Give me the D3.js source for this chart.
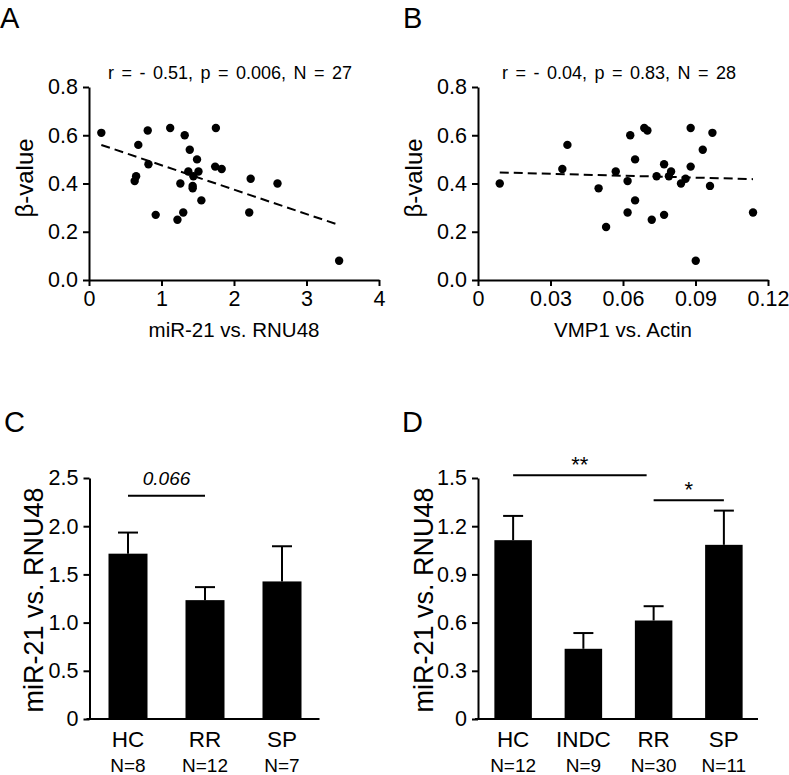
<!DOCTYPE html>
<html>
<head>
<meta charset="utf-8">
<script src="https://cdn.jsdelivr.net/npm/d3@7"></script>
<style>
  body { margin: 0; background: #fff; }
  svg { display: block; font-family: "Liberation Sans", Arial, Helvetica, sans-serif; }
  .axis path, .axis line { stroke: #000; stroke-width: 2; }
  .axis text { fill: #000; font-size: 21.5px; }
</style>
</head>
<body>
<svg id="fig" width="789" height="775"></svg>
<script>
// ---- data ----
// A: beta-value vs miR-21 / RNU48
const aX = [0.17, 0.68, 0.81, 0.82, 0.65, 0.63, 0.92, 1.12, 1.32, 1.39, 1.49, 1.37, 1.51, 1.44,
            1.26, 1.43, 1.43, 1.55, 1.30, 1.22, 1.75, 1.74, 1.83, 2.23, 2.21, 2.60, 3.45];
const aY = [0.61, 0.56, 0.62, 0.48, 0.43, 0.41, 0.27, 0.63, 0.60, 0.54, 0.50, 0.45, 0.45, 0.43,
            0.40, 0.39, 0.38, 0.33, 0.28, 0.25, 0.63, 0.47, 0.46, 0.42, 0.28, 0.40, 0.08];
const aFit = [0.577, -0.1012];   // intercept, slope
const aTitle = "r = - 0.51, p = 0.006, N = 27";
const aXTicks = [0, 1, 2, 3, 4];

// B: beta-value vs VMP1 / Actin
const bX = [0.0090, 0.0349, 0.0370, 0.0499, 0.0530, 0.0570, 0.0619, 0.0619, 0.0630, 0.0650,
            0.0650, 0.0688, 0.0701, 0.0719, 0.0739, 0.0770, 0.0770, 0.0799, 0.0790, 0.0840,
            0.0859, 0.0880, 0.0880, 0.0901, 0.0930, 0.0960, 0.0970, 0.1138];
const bY = [0.40, 0.46, 0.56, 0.38, 0.22, 0.45, 0.41, 0.28, 0.60, 0.50,
            0.33, 0.63, 0.62, 0.25, 0.43, 0.48, 0.27, 0.45, 0.43, 0.40,
            0.42, 0.63, 0.47, 0.08, 0.54, 0.39, 0.61, 0.28];
const bFit = [0.4484, -0.267];
const bTitle = "r = - 0.04, p = 0.83, N = 28";
const bXTicks = [0, 0.03, 0.06, 0.09, 0.12];
const betaTicks = [0, 0.2, 0.4, 0.6, 0.8];

// C: miR-21 by group (mean, sem)
const cCats = ["HC", "RR", "SP"];
const cN = ["N=8", "N=12", "N=7"];
const cMean = [1.715, 1.233, 1.427];
const cSem = [0.219, 0.135, 0.365];
const cTicks = [0, 0.5, 1.0, 1.5, 2.0, 2.5];
const cSig = [{ from: "HC", to: "RR", y: 2.316, label: "0.066", italic: true }];

// D: miR-21 by group incl. INDC
const dCats = ["HC", "INDC", "RR", "SP"];
const dN = ["N=12", "N=9", "N=30", "N=11"];
const dMean = [1.113, 0.437, 0.613, 1.084];
const dSem = [0.151, 0.098, 0.089, 0.213];
const dTicks = [0, 0.3, 0.6, 0.9, 1.2, 1.5];
const dSig = [{ from: "HC", to: "RR", y: 1.517, label: "**", endInset: 7 },
              { from: "RR", to: "SP", y: 1.361, label: "*" }];

const svg = d3.select("#fig");
svg.append("rect").attr("width", 789).attr("height", 775).attr("fill", "#fff");

function panelLetter(txt, x, y) {
  svg.append("text").attr("x", x).attr("y", y)
    .style("font-size", "29px").text(txt);
}

function fmtTick(d) {
  return d === 0 ? "0" : d3.format(".1f")(d);
}

function drawScatter(o) {
  const x = d3.scaleLinear().domain(o.xDomain).range([o.left, o.right]);
  const y = d3.scaleLinear().domain([0, 0.8]).range([280, 87]);
  const g = svg.append("g");

  g.append("g").attr("class", "axis")
    .attr("transform", "translate(0,280)")
    .call(d3.axisBottom(x).tickValues(o.xTicks).tickSize(6).tickSizeOuter(0).tickPadding(5)
      .tickFormat(o.xFormat));
  g.append("g").attr("class", "axis")
    .attr("transform", `translate(${o.left},0)`)
    .call(d3.axisLeft(y).tickValues(betaTicks).tickSize(6).tickSizeOuter(0).tickPadding(5)
      .tickFormat(d3.format(".1f")));

  const pts = o.xs.map((v, i) => [v, o.ys[i]]);
  g.selectAll("circle.dot").data(pts).join("circle")
    .attr("class", "dot")
    .attr("cx", d => x(d[0]))
    .attr("cy", d => y(d[1]))
    .attr("r", 4.2)
    .attr("fill", "#000");

  const ext = d3.extent(o.xs);
  g.append("line")
    .attr("x1", x(ext[0])).attr("y1", y(o.fit[0] + o.fit[1] * ext[0]))
    .attr("x2", x(ext[1])).attr("y2", y(o.fit[0] + o.fit[1] * ext[1]))
    .attr("stroke", "#000").attr("stroke-width", 2)
    .attr("stroke-dasharray", "9,5");

  const mid = (o.left + o.right) / 2;
  g.append("text").attr("x", mid - 4).attr("y", 79)
    .attr("text-anchor", "middle")
    .style("font-size", "18px").style("word-spacing", "2.5px")
    .text(o.title);

  g.append("text").attr("x", mid).attr("y", 337)
    .attr("text-anchor", "middle").style("font-size", "20.5px")
    .text(o.xLabel);

  g.append("text")
    .attr("transform", `translate(${o.left - 56},178) rotate(-90)`)
    .attr("text-anchor", "middle").style("font-size", "24px")
    .text("\u03b2-value");
}

function drawBars(o) {
  const x = d3.scalePoint().domain(o.cats).range(o.xRange).padding(0.5);
  const y = d3.scaleLinear().domain(o.yDomain).range([719, 478]);
  const g = svg.append("g");
  const left = o.xRange[0];

  // bars
  g.selectAll("rect.bar").data(o.cats).join("rect")
    .attr("class", "bar")
    .attr("x", d => x(d) - o.bw / 2)
    .attr("y", (d, i) => y(o.mean[i]))
    .attr("width", o.bw)
    .attr("height", (d, i) => y(0) - y(o.mean[i]))
    .attr("fill", "#000");

  // upper error bars
  g.selectAll("line.err").data(o.cats).join("line")
    .attr("class", "err")
    .attr("x1", d => x(d)).attr("x2", d => x(d))
    .attr("y1", (d, i) => y(o.mean[i]))
    .attr("y2", (d, i) => y(o.mean[i] + o.sem[i]))
    .attr("stroke", "#000").attr("stroke-width", 2);
  g.selectAll("line.cap").data(o.cats).join("line")
    .attr("class", "cap")
    .attr("x1", d => x(d) - 10).attr("x2", d => x(d) + 10)
    .attr("y1", (d, i) => y(o.mean[i] + o.sem[i]))
    .attr("y2", (d, i) => y(o.mean[i] + o.sem[i]))
    .attr("stroke", "#000").attr("stroke-width", 2);

  // axes
  g.append("line")
    .attr("x1", left - 3).attr("x2", o.xRange[1] - 1)
    .attr("y1", y(0)).attr("y2", y(0))
    .attr("stroke", "#000").attr("stroke-width", 2);
  g.append("g").attr("class", "axis")
    .attr("transform", `translate(${left},0)`)
    .call(d3.axisLeft(y).tickValues(o.ticks).tickSize(6).tickSizeOuter(0).tickPadding(5)
      .tickFormat(fmtTick));

  // category + N labels
  g.selectAll("text.cat").data(o.cats).join("text")
    .attr("class", "cat")
    .attr("x", d => x(d)).attr("y", 747)
    .attr("text-anchor", "middle").style("font-size", "22.5px")
    .text(d => d);
  g.selectAll("text.n").data(o.n).join("text")
    .attr("class", "n")
    .attr("x", (d, i) => x(o.cats[i])).attr("y", 772)
    .attr("text-anchor", "middle").style("font-size", "19px")
    .text(d => d);

  // significance brackets
  o.sig.forEach(s => {
    const x1 = x(s.from), x2 = x(s.to) - (s.endInset || 0);
    g.append("line")
      .attr("x1", x1).attr("x2", x2)
      .attr("y1", y(s.y)).attr("y2", y(s.y))
      .attr("stroke", "#000").attr("stroke-width", 2);
    g.append("text")
      .attr("x", (x1 + x2) / 2)
      .attr("y", y(s.y) - (s.italic ? 11 : 3))
      .attr("text-anchor", "middle")
      .style("font-size", s.italic ? "19px" : "22px")
      .style("font-style", s.italic ? "italic" : "normal")
      .text(s.label);
  });

  g.append("text")
    .attr("transform", `translate(${o.yLabelX},600) rotate(-90)`)
    .attr("text-anchor", "middle").style("font-size", "27px")
    .text("miR-21 vs. RNU48");
}

panelLetter("A", 0, 28);
panelLetter("B", 403, 28);
panelLetter("C", 4, 432);
panelLetter("D", 402, 432);

drawScatter({ xs: aX, ys: aY, fit: aFit, title: aTitle, xDomain: [0, 4], xTicks: aXTicks,
  xFormat: d3.format("d"), left: 89, right: 379, xLabel: "miR-21 vs. RNU48" });
drawScatter({ xs: bX, ys: bY, fit: bFit, title: bTitle, xDomain: [0, 0.12], xTicks: bXTicks,
  xFormat: d => d === 0 ? "0" : d3.format(".2f")(d), left: 478, right: 768, xLabel: "VMP1 vs. Actin" });

drawBars({ cats: cCats, n: cN, mean: cMean, sem: cSem, ticks: cTicks, sig: cSig,
  yDomain: [0, 2.5], xRange: [89.5, 320.5], bw: 39, yLabelX: 43 });
drawBars({ cats: dCats, n: dN, mean: dMean, sem: dSem, ticks: dTicks, sig: dSig,
  yDomain: [0, 1.5], xRange: [478, 759], bw: 37.5, yLabelX: 433 });
</script>
</body>
</html>
